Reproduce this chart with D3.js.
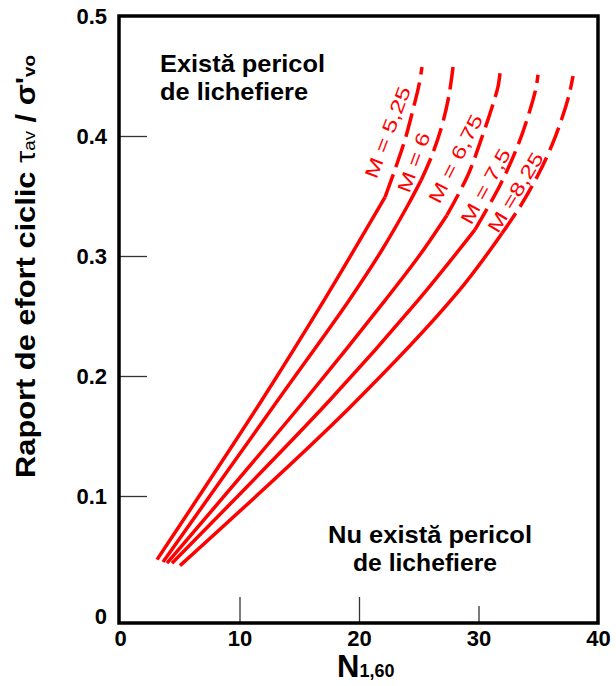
<!DOCTYPE html>
<html>
<head>
<meta charset="utf-8">
<script src="https://cdn.jsdelivr.net/npm/d3@7"></script>
<style>
  body { margin: 0; background: #fff; }
  svg { display: block; }
  text { font-family: "Liberation Sans", Arial, sans-serif; }
</style>
</head>
<body>
<div id="chart"></div>
<script>
// curve labels (earthquake magnitude)
const magLabels = ["M = 5,25", "M = 6", "M = 6,75", "M = 7,5", "M =8,25"];

// N1,60 values along each curve
const n160 = [
  [3.10, 11.88, 17.07, 22.18, 23.01, 23.85, 24.52, 25.02, 25.27],
  [3.60, 13.22, 19.16, 21.92, 24.10, 25.19, 26.11, 26.95, 27.53, 27.87],
  [3.93, 15.48, 22.18, 25.10, 27.36, 29.12, 30.29, 31.13, 31.63, 31.80],
  [4.35, 17.57, 24.94, 29.71, 31.80, 33.31, 34.31, 34.81, 34.98],
  [5.02, 19.25, 28.20, 31.97, 33.47, 34.98, 36.15, 36.99, 37.57, 37.91]
];
// cyclic stress ratio values along each curve
const csr = [
  [0.047, 0.180, 0.263, 0.349, 0.372, 0.397, 0.422, 0.4425, 0.4575],
  [0.045, 0.180, 0.263, 0.305, 0.3425, 0.363, 0.384, 0.409, 0.434, 0.4575],
  [0.044, 0.180, 0.263, 0.301, 0.334, 0.3675, 0.399, 0.424, 0.441, 0.4525],
  [0.044, 0.180, 0.263, 0.322, 0.359, 0.3925, 0.4217, 0.440, 0.451],
  [0.042, 0.174, 0.269, 0.319, 0.341, 0.3675, 0.3925, 0.415, 0.434, 0.450]
];
// above this ratio the curve is dashed
const dashFrom = [0.349, 0.363, 0.334, 0.322, 0.319];

// where the magnitude labels sit (data units)
const labelN = [22.4, 24.6, 28.1, 30.6, 33.1];
const labelCsr = [0.403, 0.378, 0.381, 0.358, 0.353];

const xTicks = [0, 10, 20, 30, 40];
const yTicks = [0, 0.1, 0.2, 0.3, 0.4, 0.5];

const WIDTH = 616, HEIGHT = 686;
const LABEL_ANGLE = [-69, -70, -63, -61, -59];
const RED = "#ff0000";

const svg = d3.select("#chart").append("svg")
    .attr("width", WIDTH)
    .attr("height", HEIGHT);

const X = d3.scaleLinear().domain([0, 40]).range([120, 598]);
const Y = d3.scaleLinear().domain([0, 0.5]).range([616, 16]);

// y axis
const yAxis = svg.append("g")
    .attr("transform", "translate(119,0)")
    .call(d3.axisLeft(Y).tickValues(yTicks).tickSize(-28).tickPadding(12)
        .tickFormat(d => d === 0 ? "0" : d.toFixed(1)));
yAxis.select(".domain").remove();
yAxis.selectAll(".tick line").filter(d => d === 0 || d === 0.5).remove();
yAxis.selectAll(".tick line").attr("stroke", "#333").attr("stroke-width", 1.3);
yAxis.selectAll("text")
    .attr("font-size", 22).attr("font-weight", "bold")
    .attr("font-family", "Liberation Sans, Arial, sans-serif").attr("fill", "#000");

// x axis
const xAxis = svg.append("g")
    .attr("transform", "translate(0,623)")
    .call(d3.axisBottom(X).tickValues(xTicks).tickSize(-26).tickPadding(7));
xAxis.select(".domain").remove();
xAxis.selectAll(".tick line").filter(d => d === 0 || d === 40).remove();
xAxis.selectAll(".tick line").attr("stroke", "#333").attr("stroke-width", 1.3)
    .filter(d => d === 30).attr("y2", -17);
xAxis.selectAll("text")
    .attr("font-size", 22).attr("font-weight", "bold")
    .attr("font-family", "Liberation Sans, Arial, sans-serif").attr("fill", "#000");

// frame
svg.append("rect")
    .attr("x", 119).attr("y", 16)
    .attr("width", 598 - 119).attr("height", 623 - 16)
    .attr("fill", "none").attr("stroke", "#000").attr("stroke-width", 3.5);

// curves
const line = d3.line()
    .x(d => X(d[0]))
    .y(d => Y(d[1]))
    .curve(d3.curveCatmullRom.alpha(0.5));

n160.forEach((xs, i) => {
    const pts = xs.map((v, j) => [v, csr[i][j]]);
    const solid = pts.filter(p => p[1] <= dashFrom[i]);
    const dashed = pts.filter(p => p[1] >= dashFrom[i]);
    svg.append("path")
        .attr("d", line(solid))
        .attr("fill", "none").attr("stroke", RED).attr("stroke-width", 3.5);
    svg.append("path")
        .attr("d", line(dashed))
        .attr("fill", "none").attr("stroke", RED).attr("stroke-width", 3.5)
        .attr("stroke-dasharray", "24,8");
});

// magnitude labels
magLabels.forEach((t, i) => {
    svg.append("text")
        .attr("transform", "translate(" + X(labelN[i]) + "," + Y(labelCsr[i]) + ") rotate(" + LABEL_ANGLE[i] + ") scale(1.3,1)")
        .attr("text-anchor", "middle")
        .attr("dominant-baseline", "central")
        .attr("font-size", 19)
        .attr("fill", RED)
        .text(t);
});

// region notes
const notes = [
    {t: "Există pericol", x: 160, y: 72, len: 165},
    {t: "de lichefiere", x: 160, y: 100, len: 148},
    {t: "Nu există pericol", x: 328, y: 543, len: 204},
    {t: "de lichefiere", x: 353, y: 571, len: 144}
];
notes.forEach(n => {
    svg.append("text")
        .attr("x", n.x).attr("y", n.y)
        .attr("font-size", 24).attr("font-weight", "bold")
        .attr("textLength", n.len).attr("lengthAdjust", "spacingAndGlyphs")
        .text(n.t);
});

// x axis title
const xt = svg.append("text")
    .attr("x", 337).attr("y", 677)
    .attr("font-weight", "bold");
xt.append("tspan").attr("font-size", 31).text("N");
xt.append("tspan").attr("font-size", 18).text("1,60");

// y axis title
const yt = svg.append("text")
    .attr("font-weight", "bold")
    .attr("font-size", 28);
yt.append("tspan").text("Raport de efort ciclic ");
yt.append("tspan").attr("font-weight", "normal").text("τ");
yt.append("tspan").attr("font-size", 17).attr("font-weight", "normal").text("av");
yt.append("tspan").text(" / σ'");
yt.append("tspan").attr("font-size", 17).text("vo");
const ytLen = yt.node().getComputedTextLength();
yt.attr("transform", "translate(35,478) rotate(-90) scale(" + (423 / ytLen) + ",1)");
</script>
</body>
</html>
